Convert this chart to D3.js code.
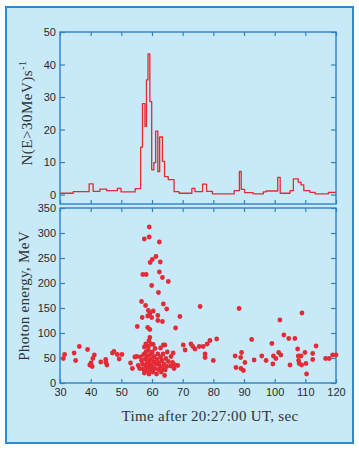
<!DOCTYPE html>
<html><head><meta charset="utf-8">
<script src="https://cdn.jsdelivr.net/npm/d3@7"></script>
<style>body{margin:0;background:#fff}</style></head>
<body>
<svg id="c" width="359" height="451"></svg>
<script>
// Count rate N(E>30MeV) as a step trace: start times (s) and values
const rateTimes = [30, 34.3, 39.5, 40.8, 43, 45.2, 48.7, 49.9, 54.5, 56.3,
  56.9, 57.7, 58.2, 58.7, 59.3, 59.9, 60.6, 61.2, 61.9, 62.5,
  63.4, 64.1, 65.3, 67.2, 68.8, 73.0, 74.0, 76.5, 77.8, 79.7,
  86.8, 88.5, 89.1, 90.2, 93, 96.3, 97.2, 101, 101.8, 105,
  106.1, 107.7, 108.6, 109.5, 111.5, 113.2, 117.5, 120];
const rateValues = [0.4, 0.9, 3.3, 1.0, 1.7, 1.2, 1.9, 0.8, 1.8, 14.6,
  28, 21, 35.3, 43.3, 28.6, 7.6, 9.8, 19.5, 7.1, 17.7,
  10.2, 5.5, 4.6, 0.9, 0.4, 1.9, 0.9, 3.2, 1.0, 0.2,
  1.2, 7.1, 1.6, 0.6, 0.2, 0.8, 1.1, 5.3, 0.4, 1.2,
  4.8, 3.8, 3.0, 1.2, 0.7, 0.2, 0.7, 0.7];

// Individual photons: time (s) and energy (MeV)
const photonTimes = [
  31.1, 31.5, 34.6, 35.1, 36.3, 39.0, 39.7, 40.1, 40.5, 40.7, 41.2, 43.3, 44.9, 45.0, 45.3,
  47.1, 47.6, 48.7, 49.3, 50.2, 53.0, 53.6, 54.4, 55.0, 55.2, 55.5,
  59.1, 57.5, 59.1, 62.4, 61.3, 60.1, 59.4, 62.7, 57.0, 58.1, 62.4, 63.4, 65.3, 59.9, 62.1,
  56.6, 57.9, 63.7, 64.8, 58.8, 60.4, 59.3, 58.6, 59.9, 61.9, 56.8, 61.9, 63.4, 58.6, 59.3,
  67.7, 69.1, 75.7,
  59.3, 59.0, 63.7, 64.2, 58.0, 58.8, 59.7, 57.5, 60.4, 62.8,
  56.2, 56.6, 56.9, 57.1, 57.3, 57.5, 57.8, 57.9, 58.0, 58.2, 58.4, 58.5, 58.7, 58.8, 59.0,
  59.1, 59.3, 59.4, 59.6, 59.8, 60.0, 60.1, 60.3, 60.5, 60.7, 60.9, 61.0, 61.3, 61.5, 61.6,
  61.9, 62.1, 62.3, 62.5, 62.8, 63.0, 63.2, 63.4, 63.6, 63.9, 64.1, 64.3, 64.5, 64.8, 65.0,
  65.3, 66.1, 66.7, 67.5, 68.4, 67.2, 56.0, 66.9, 66.2,
  70.2, 70.8, 72.7, 73.3, 74.0, 75.4, 76.7, 77.3, 77.3, 78.0, 78.9, 80.0, 81.1,
  88.4, 87.1, 87.4, 88.9, 89.2, 89.0, 89.8, 90.3, 92.5, 93.3, 95.8, 97.2,
  99.1, 99.4, 99.6, 100.4, 101.3, 102.0, 101.7, 103.0, 104.6, 105.0, 106.6,
  107.5, 107.7, 108.6, 107.8, 108.0, 108.8, 108.9, 109.9, 110.2, 110.4,
  112.4, 112.4, 113.5, 116.6, 117.8, 118.9, 120.0];
const photonEnergies = [
  49, 57, 60, 45, 73, 67, 36, 40, 33, 49, 56, 42, 47, 41, 36,
  60, 63, 57, 48, 57, 40, 29, 52, 53, 113, 35,
  312, 288, 292, 282, 253, 247, 241, 242, 217, 217, 222, 211, 203, 195, 181,
  163, 155, 158, 148, 145, 144, 139, 134, 131, 135, 131, 125, 123, 111, 107,
  110, 133, 153,
  91, 84, 76, 76, 78, 73, 78, 72, 77, 70,
  52, 45, 38, 28, 57, 20, 48, 35, 62, 25, 42, 53, 30, 66, 18,
  45, 37, 57, 26, 48, 33, 62, 22, 42, 53, 29, 69, 38, 18, 47,
  58, 27, 40, 34, 52, 22, 45, 30, 58, 38, 15, 26, 49, 33, 62,
  43, 34, 41, 36, 35, 29, 29, 60, 53,
  76, 66, 78, 73, 68, 73, 73, 58, 51, 78, 85, 45, 88,
  149, 54, 31, 51, 61, 29, 25, 41, 87, 46, 54, 45,
  79, 38, 54, 49, 61, 56, 126, 96, 89, 36, 89,
  68, 54, 54, 45, 39, 36, 140, 61, 39, 18,
  59, 47, 74, 49, 49, 56, 56];

const xTicks = [30, 40, 50, 60, 70, 80, 90, 100, 110, 120];
const rateTicks = [0, 10, 20, 30, 40, 50];
const energyTicks = [0, 50, 100, 150, 200, 250, 300, 350];

const svg = d3.select('#c');
const BLUE = '#2f82c8', BG = '#c7e9f8', RED = '#e42a34', TXT = '#2b2b2b';

svg.append('rect').attr('x', 6).attr('y', 7).attr('width', 347).attr('height', 436)
  .attr('fill', BG).attr('stroke', '#2c8ad0').attr('stroke-width', 2);

const L = 60, R = 336;
const x = d3.scaleLinear().domain([30, 120]).range([L, R]);
const yTop = d3.scaleLinear().domain([-2.9, 50]).range([204, 32]);
const yBot = d3.scaleLinear().domain([0, 350]).range([383, 208]);

function styleAxis(g) {
  g.select('.domain').remove();
  g.selectAll('.tick line').attr('stroke', BLUE).attr('stroke-width', 1.2);
  g.selectAll('.tick text').attr('fill', TXT)
    .style('font-family', '"Liberation Sans", Arial, sans-serif').style('font-size', '11px');
}

// top panel axes
svg.append('g').attr('transform', `translate(0,32)`)
  .call(d3.axisTop(x).tickValues(xTicks).tickSize(-4).tickFormat('')).call(styleAxis);
svg.append('g').attr('transform', `translate(0,204)`)
  .call(d3.axisBottom(x).tickValues(xTicks).tickSize(-4).tickFormat('')).call(styleAxis);
svg.append('g').attr('transform', `translate(${L},0)`)
  .call(d3.axisLeft(yTop).tickValues(rateTicks).tickSize(-5).tickPadding(4)).call(styleAxis);
svg.append('g').attr('transform', `translate(${R},0)`)
  .call(d3.axisRight(yTop).tickValues(rateTicks).tickSize(-5).tickFormat('')).call(styleAxis);

// bottom panel axes
svg.append('g').attr('transform', `translate(0,208)`)
  .call(d3.axisTop(x).tickValues(xTicks).tickSize(-4).tickFormat('')).call(styleAxis);
svg.append('g').attr('transform', `translate(0,383)`)
  .call(d3.axisBottom(x).tickValues(xTicks).tickSize(-4).tickPadding(5)).call(styleAxis);
svg.append('g').attr('transform', `translate(${L},0)`)
  .call(d3.axisLeft(yBot).tickValues(energyTicks).tickSize(-5).tickPadding(4)).call(styleAxis);
svg.append('g').attr('transform', `translate(${R},0)`)
  .call(d3.axisRight(yBot).tickValues(energyTicks).tickSize(-5).tickFormat('')).call(styleAxis);

// frames
svg.append('rect').attr('x', L).attr('y', 32).attr('width', R - L).attr('height', 172)
  .attr('fill', 'none').attr('stroke', BLUE).attr('stroke-width', 1.4);
svg.append('rect').attr('x', L).attr('y', 208).attr('width', R - L).attr('height', 175)
  .attr('fill', 'none').attr('stroke', BLUE).attr('stroke-width', 1.4);

// rate trace
const rate = rateTimes.map((t, i) => ({ t, v: rateValues[i] }));
svg.append('path').datum(rate)
  .attr('d', d3.line().x(d => x(d.t)).y(d => yTop(d.v)).curve(d3.curveStepAfter))
  .attr('fill', 'none').attr('stroke', RED).attr('stroke-width', 1.3).attr('stroke-linejoin', 'round');

// photons
const photons = photonTimes.map((t, i) => ({ t, e: photonEnergies[i] }));
svg.append('g').selectAll('circle').data(photons).join('circle')
  .attr('cx', d => x(d.t)).attr('cy', d => yBot(d.e)).attr('r', 2.4).attr('fill', RED);

// titles
const serif = '"Liberation Serif", "Times New Roman", serif';
const t1 = svg.append('text').attr('transform', 'translate(32,113) rotate(-90)')
  .attr('text-anchor', 'middle').attr('fill', '#333').style('font-family', serif)
  .style('font-size', '15px').style('letter-spacing', '0.5px');
t1.append('tspan').text('N(E>30MeV)s');
t1.append('tspan').attr('dy', -6).style('font-size', '10px').text('-1');

svg.append('text').attr('transform', 'translate(29,296) rotate(-90)')
  .attr('text-anchor', 'middle').attr('fill', '#333').style('font-family', serif)
  .style('font-size', '15px').style('letter-spacing', '0.3px')
  .text('Photon energy, MeV');

svg.append('text').attr('x', 210).attr('y', 421).attr('text-anchor', 'middle')
  .attr('fill', '#333').style('font-family', serif).style('font-size', '15px')
  .style('letter-spacing', '0.3px')
  .text('Time after 20:27:00 UT, sec');
</script>
</body></html>
